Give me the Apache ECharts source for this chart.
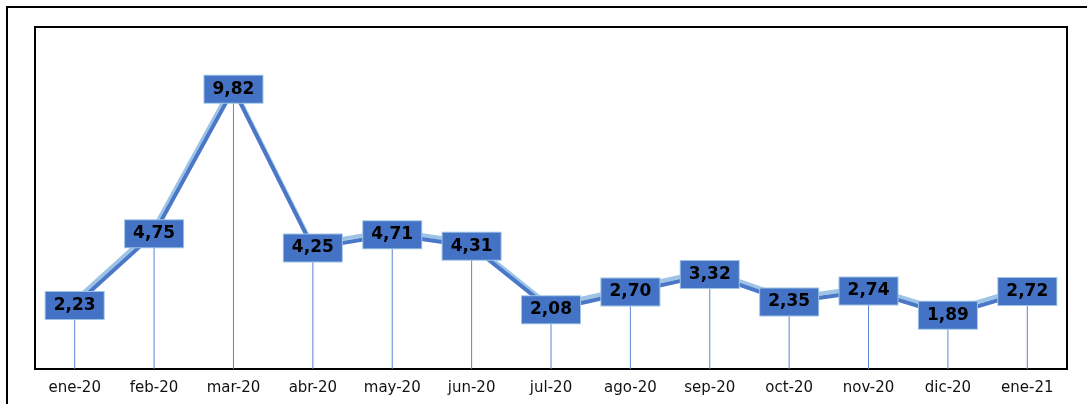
<!DOCTYPE html>
<html>
<head>
<meta charset="utf-8">
<script src="https://cdn.jsdelivr.net/npm/echarts@6/dist/echarts.min.js"></script>
<style>
  html, body { margin: 0; padding: 0; background: #fff; }
  #chart { width: 1087px; height: 404px; }
</style>
</head>
<body>
<div id="chart"></div>
<script>
// datos
var meses = ['ene-20', 'feb-20', 'mar-20', 'abr-20', 'may-20', 'jun-20', 'jul-20',
             'ago-20', 'sep-20', 'oct-20', 'nov-20', 'dic-20', 'ene-21'];
var valores = [2.23, 4.75, 9.82, 4.25, 4.71, 4.31, 2.08, 2.70, 3.32, 2.35, 2.74, 1.89, 2.72];

var chart = echarts.init(document.getElementById('chart'));

var option = {
  animation: false,
  graphic: [
    {
      // marco exterior
      type: 'rect',
      shape: { x: 7, y: 7, width: 1200, height: 500 },
      style: { fill: 'none', stroke: '#000', lineWidth: 2 },
      z: -1
    }
  ],
  grid: {
    left: 35,
    right: 20,
    top: 27,
    bottom: 35,
    show: true,
    borderColor: '#000',
    borderWidth: 2,
    backgroundColor: '#fff'
  },
  xAxis: {
    type: 'category',
    data: meses,
    boundaryGap: true,
    axisLine: { show: false },
    axisTick: { show: false },
    axisLabel: {
      interval: 0,
      color: '#111',
      fontFamily: 'DejaVu Sans',
      fontSize: 15,
      margin: 12
    }
  },
  yAxis: {
    type: 'value',
    min: 0,
    max: 12,
    show: false,
    splitLine: { show: false }
  },
  series: [
    {
      // lineas verticales
      type: 'bar',
      data: valores,
      barWidth: 1,
      itemStyle: { color: '#5b86d4' },
      silent: true,
      z: 1
    },
    {
      type: 'line',
      data: valores,
      symbol: 'circle',
      symbolSize: 2,
      showSymbol: true,
      itemStyle: { color: '#4472c4' },
      lineStyle: {
        color: '#4a77c8',
        width: 4,
        shadowColor: '#9dc3e6',
        shadowBlur: 0,
        shadowOffsetX: -1,
        shadowOffsetY: -4
      },
      label: {
        show: true,
        position: 'inside',
        formatter: function (p) {
          return p.value.toFixed(2).replace('.', ',');
        },
        backgroundColor: '#4472c4',
        borderColor: '#9dc3e6',
        borderWidth: 1,
        color: '#000',
        fontFamily: 'DejaVu Sans',
        fontWeight: 'bold',
        fontSize: 17,
        width: 58,
        height: 27,
        lineHeight: 27,
        align: 'center',
        verticalAlign: 'middle'
      },
      z: 3
    }
  ]
};

chart.setOption(option);
</script>
</body>
</html>
